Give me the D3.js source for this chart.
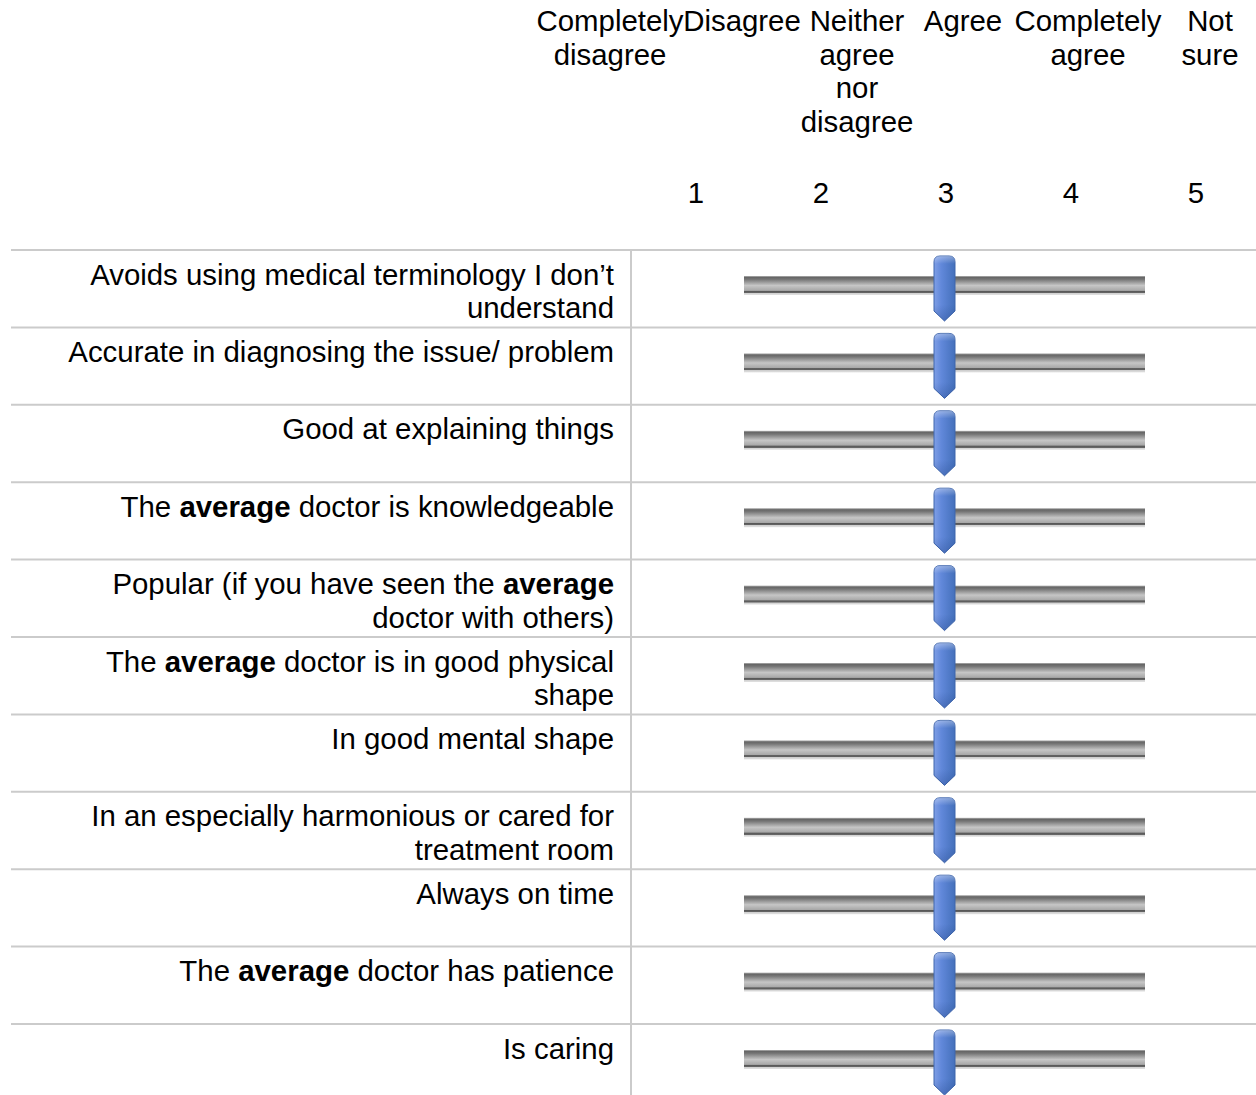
<!DOCTYPE html>
<html>
<head>
<meta charset="utf-8">
<script src="https://cdnjs.cloudflare.com/ajax/libs/d3/7.8.5/d3.min.js"></script>
<style>
  body { margin: 0; background: #fff; }
  svg { display: block; font-family: "Liberation Sans", Arial, Helvetica, sans-serif; }
</style>
</head>
<body>
<div id="chart"></div>
<script>
// answer options shown above the sliders (one entry per line)
var headerLabels = [
  ["Completely", "disagree"],
  ["Disagree"],
  ["Neither", "agree", "nor", "disagree"],
  ["Agree"],
  ["Completely", "agree"],
  ["Not", "sure"]
];
var scaleTicks = [1, 2, 3, 4, 5];

// statements, pre-wrapped; **word** is bold
var statements = [
  ["Avoids using medical terminology I don\u2019t", "understand"],
  ["Accurate in diagnosing the issue/ problem"],
  ["Good at explaining things"],
  ["The **average** doctor is knowledgeable"],
  ["Popular (if you have seen the **average**", "doctor with others)"],
  ["The **average** doctor is in good physical", "shape"],
  ["In good mental shape"],
  ["In an especially harmonious or cared for", "treatment room"],
  ["Always on time"],
  ["The **average** doctor has patience"],
  ["Is caring"]
];
// slider position for each statement
var sliderValues = [3, 3, 3, 3, 3, 3, 3, 3, 3, 3, 3];

var width = 1256, height = 1095,
    fontSize = 29.4, lineH = 33.5,
    labelRight = 614, divider = 631,
    trackX0 = 744, trackX1 = 1145;

var svg = d3.select("#chart").append("svg")
    .attr("width", width)
    .attr("height", height);

var defs = svg.append("defs");
var trackGrad = defs.append("linearGradient")
    .attr("id", "trackGrad").attr("x1", 0).attr("y1", 0).attr("x2", 0).attr("y2", 1);
[[0, "#b4b4b4"], [0.08, "#666666"], [0.18, "#767676"], [0.5, "#c6c6c6"], [0.76, "#a8a8a8"],
 [0.8, "#575757"], [0.88, "#666666"], [0.9, "#cfcfcf"], [1, "#e2e2e2"]].forEach(function(s) {
  trackGrad.append("stop").attr("offset", s[0]).attr("stop-color", s[1]);
});
var knobGrad = defs.append("linearGradient")
    .attr("id", "knobGrad").attr("x1", 0).attr("y1", 0).attr("x2", 1).attr("y2", 0);
[[0, "#7f9fe6"], [0.35, "#6188da"], [1, "#4470bb"]].forEach(function(s) {
  knobGrad.append("stop").attr("offset", s[0]).attr("stop-color", s[1]);
});
var knobShade = defs.append("linearGradient")
    .attr("id", "knobShade").attr("x1", 0).attr("y1", 0).attr("x2", 0).attr("y2", 1);
[[0, "#ffffff", 0.35], [0.12, "#ffffff", 0], [0.75, "#1e3f80", 0], [1, "#1e3f80", 0.3]].forEach(function(s) {
  knobShade.append("stop").attr("offset", s[0]).attr("stop-color", s[1]).attr("stop-opacity", s[2]);
});

// scales
var headerX = d3.scaleOrdinal()
    .domain(d3.range(headerLabels.length))
    .range([610, 742, 857, 963, 1088, 1210]);
var tickX = d3.scaleLinear().domain([1, 5]).range([696, 1196]);
var sliderX = d3.scaleLinear().domain([1, 5]).range([trackX0 + 10, trackX1 - 10]);
var rowY = d3.scaleBand()
    .domain(d3.range(statements.length))
    .range([250, 250 + statements.length * 77.4]);

// header
var head = svg.append("g").attr("font-size", fontSize).attr("fill", "#000").attr("text-anchor", "middle");
head.selectAll("text.hdr")
  .data(headerLabels)
  .join("text")
    .attr("class", "hdr")
    .attr("x", function(d, i) { return headerX(i); })
    .attr("y", 31)
    .selectAll("tspan")
    .data(function(d, i) { return d.map(function(t) { return { t: t, i: i }; }); })
    .join("tspan")
      .attr("x", function(d) { return headerX(d.i); })
      .attr("dy", function(d, j) { return j === 0 ? 0 : lineH; })
      .text(function(d) { return d.t; });

head.selectAll("text.tick")
  .data(scaleTicks)
  .join("text")
    .attr("class", "tick")
    .attr("x", function(d) { return tickX(d); })
    .attr("y", 203)
    .text(function(d) { return d; });

// grid lines
var grid = svg.append("g").attr("stroke", "#cbcbcb").attr("stroke-width", 2);
grid.selectAll("line.h")
  .data(statements)
  .join("line")
    .attr("class", "h")
    .attr("x1", 11).attr("x2", width)
    .attr("y1", function(d, i) { return rowY(i); })
    .attr("y2", function(d, i) { return rowY(i); });
grid.append("line")
    .attr("x1", divider).attr("x2", divider)
    .attr("y1", rowY(0)).attr("y2", height);

// rows
var rows = svg.selectAll("g.row")
  .data(statements)
  .join("g")
    .attr("class", "row")
    .attr("transform", function(d, i) { return "translate(0," + rowY(i) + ")"; });

var label = rows.append("text")
    .attr("font-size", fontSize)
    .attr("text-anchor", "end")
    .attr("fill", "#000");

label.each(function(lines) {
  var t = d3.select(this);
  lines.forEach(function(line, j) {
    var parts = line.split("**");
    parts.forEach(function(p, k) {
      if (!p) return;
      var sp = t.append("tspan").text(p);
      if (k % 2 === 1) sp.attr("font-weight", "bold");
      if (k === 0 || (k === 1 && !parts[0])) {
        sp.attr("x", labelRight).attr("y", 34.5 + j * lineH);
      }
    });
  });
});

// slider track
rows.append("rect")
    .attr("x", trackX0)
    .attr("y", 26)
    .attr("width", trackX1 - trackX0)
    .attr("height", 19)
    .attr("fill", "url(#trackGrad)");

// slider knob
function knobPath(cx) {
  var w = 21, x0 = cx - w / 2, x1 = cx + w / 2, top = 6, body = 61, tip = 71, r = 6;
  return "M" + x0 + "," + (top + r) +
    "Q" + x0 + "," + top + " " + (x0 + r) + "," + top +
    "L" + (x1 - r) + "," + top +
    "Q" + x1 + "," + top + " " + x1 + "," + (top + r) +
    "L" + x1 + "," + body +
    "L" + cx + "," + tip +
    "L" + x0 + "," + body + "Z";
}
rows.append("path")
    .attr("d", function(d, i) { return knobPath(sliderX(sliderValues[i])); })
    .attr("fill", "url(#knobGrad)")
    .attr("stroke", "#3f66ad")
    .attr("stroke-width", 1);
rows.append("path")
    .attr("d", function(d, i) { return knobPath(sliderX(sliderValues[i])); })
    .attr("fill", "url(#knobShade)");
</script>
</body>
</html>
